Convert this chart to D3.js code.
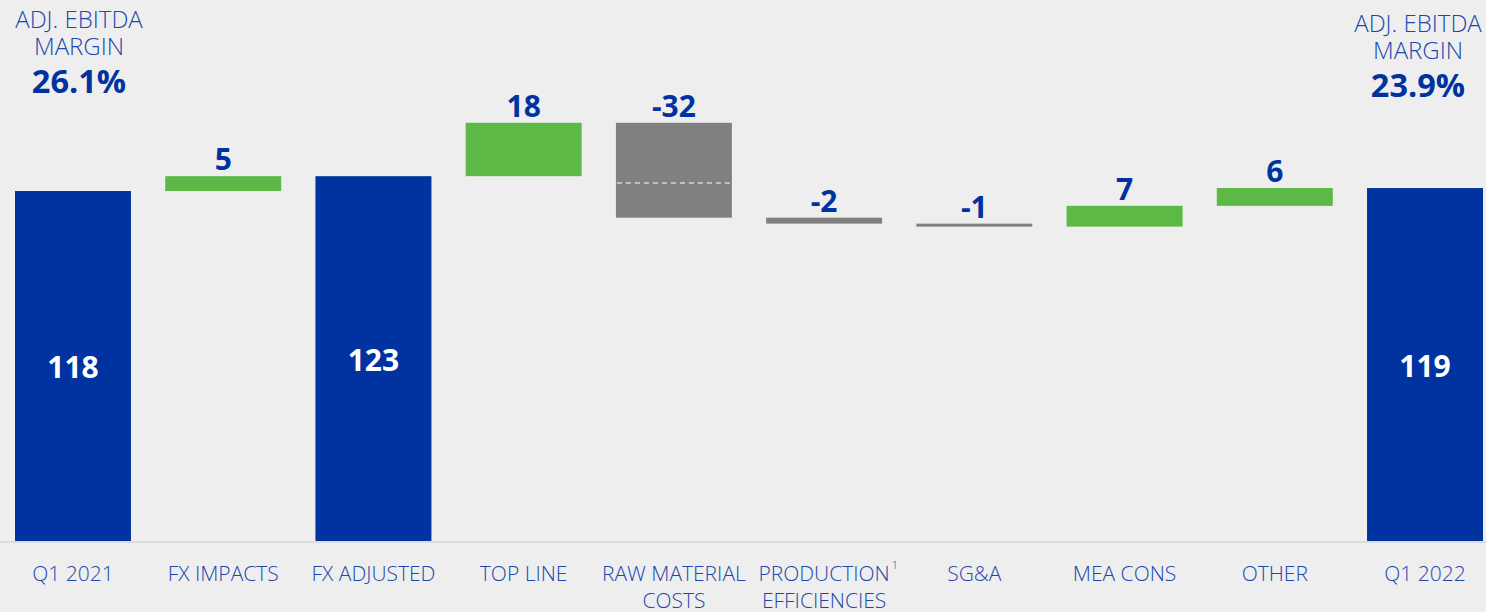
<!DOCTYPE html>
<html>
<head>
<meta charset="utf-8">
<script src="https://cdn.jsdelivr.net/npm/d3@7"></script>
<style>
  html, body { margin: 0; padding: 0; background: #eeeeee; }
  svg { display: block; }
</style>
</head>
<body>
<svg id="chart" width="1486" height="612"></svg>
<script>
// ---- data ----
const categories = ["Q1 2021", "FX IMPACTS", "FX ADJUSTED", "TOP LINE", "RAW MATERIAL COSTS",
                    "PRODUCTION EFFICIENCIES", "SG&A", "MEA CONS", "OTHER", "Q1 2022"];
const labelLines = [["Q1 2021"], ["FX IMPACTS"], ["FX ADJUSTED"], ["TOP LINE"], ["RAW MATERIAL", "COSTS"],
                    ["PRODUCTION", "EFFICIENCIES"], ["SG&A"], ["MEA CONS"], ["OTHER"], ["Q1 2022"]];
const footnotes = ["", "", "", "", "", "1", "", "", "", ""];
const values = [118, 5, 123, 18, -32, -2, -1, 7, 6, 119];
const kinds = ["total", "delta", "total", "delta", "delta", "delta", "delta", "delta", "delta", "total"];
const rmcSplitValue = 120.7; // dashed divider inside raw material costs bar
const margins = [{ title: ["ADJ. EBITDA", "MARGIN"], value: "26.1%" },
                 { title: ["ADJ. EBITDA", "MARGIN"], value: "23.9%" }];

// ---- build waterfall ----
let run = 0;
const bars = categories.map((c, i) => {
  let lo, hi;
  if (kinds[i] === "total") { lo = 0; hi = values[i]; run = values[i]; }
  else { const s = run; run = run + values[i]; lo = Math.min(s, run); hi = Math.max(s, run); }
  return { cat: c, i, v: values[i], kind: kinds[i], lo, hi };
});

const svg = d3.select("#chart");
const W = 1486, H = 612;
const blue = "#0033a0", green = "#5cb946", gray = "#808080", textBlue = "#1a49ad";
const font = "'Open Sans', 'Noto Sans', sans-serif";

const x = d3.scaleBand().domain(categories).range([15, 1483]).paddingInner(0.228).paddingOuter(0);
const y = d3.scaleLinear().domain([0, 182.4]).range([541, 0]);

svg.append("rect").attr("width", W).attr("height", H).attr("fill", "#eeeeee");

// baseline
svg.append("line").attr("x1", 0).attr("x2", W).attr("y1", 542).attr("y2", 542)
  .attr("stroke", "#d6d6d6").attr("stroke-width", 1.5);

// bars
svg.selectAll("rect.bar").data(bars).join("rect")
  .attr("class", "bar")
  .attr("x", d => x(d.cat))
  .attr("width", x.bandwidth())
  .attr("y", d => y(d.hi))
  .attr("height", d => y(d.lo) - y(d.hi))
  .attr("fill", d => d.kind === "total" ? blue : (d.v >= 0 ? green : gray));

// dashed divider in raw material bar
const rmc = bars[4];
svg.append("line")
  .attr("x1", x(rmc.cat) + 1).attr("x2", x(rmc.cat) + x.bandwidth())
  .attr("y1", y(rmcSplitValue)).attr("y2", y(rmcSplitValue))
  .attr("stroke", "#ffffff").attr("stroke-width", 1.2).attr("stroke-dasharray", "5,4");

// value labels
svg.selectAll("text.val").data(bars).join("text")
  .attr("class", "val")
  .attr("x", d => x(d.cat) + x.bandwidth() / 2)
  .attr("y", d => d.kind === "total" ? (y(d.hi) + y(d.lo)) / 2 + 12 : y(d.hi) - 6)
  .attr("text-anchor", "middle")
  .attr("font-family", font).attr("font-weight", 700).attr("font-size", 30)
  .attr("fill", d => d.kind === "total" ? "#ffffff" : blue)
  .text(d => d.kind === "total" ? d3.format("d")(d.v) : (d.v < 0 ? "-" + Math.abs(d.v) : String(d.v)));

// category labels
const cl = svg.selectAll("g.cat").data(bars).join("g").attr("class", "cat");
cl.each(function(d) {
  const g = d3.select(this);
  const cx = x(d.cat) + x.bandwidth() / 2;
  labelLines[d.i].forEach((ln, k) => {
    const t = g.append("text")
      .attr("x", cx).attr("y", 581 + k * 27)
      .attr("text-anchor", "middle")
      .attr("font-family", font).attr("font-weight", 300).attr("font-size", 21)
      .attr("fill", textBlue).text(ln);
    if (k === 0 && footnotes[d.i]) {
      const bb = t.node().getBBox();
      g.append("text").attr("x", bb.x + bb.width + 2).attr("y", 569)
        .attr("font-family", font).attr("font-weight", 300).attr("font-size", 11).attr("fill", textBlue)
        .text(footnotes[d.i]);
    }
  });
});

// margin annotations
const mpos = [{ cx: 79, y0: 28 }, { cx: 1418, y0: 32 }];
margins.forEach((m, j) => {
  const p = mpos[j];
  m.title.forEach((t, k) => {
    svg.append("text").attr("x", p.cx).attr("y", p.y0 + k * 27)
      .attr("text-anchor", "middle").attr("font-family", font).attr("font-weight", 300).attr("font-size", 24)
      .attr("fill", textBlue).text(t);
  });
  svg.append("text").attr("x", p.cx).attr("y", p.y0 + 65)
    .attr("text-anchor", "middle").attr("font-family", font).attr("font-weight", 700)
    .attr("font-size", 32.5).attr("fill", blue).text(m.value);
});
</script>
</body>
</html>
